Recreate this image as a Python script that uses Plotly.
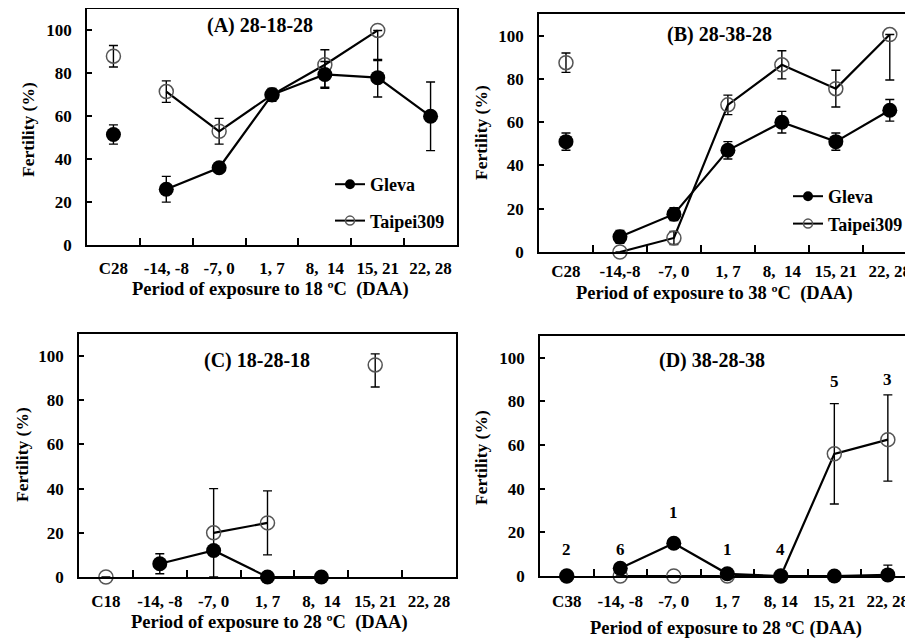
import plotly.graph_objects as go

# The page body has an 8px margin, so the figure is drawn 8px in from the
# window's top-left corner. All layout positions below are given in window
# pixels and converted to figure coordinates.
WIN_W, WIN_H = 913, 641
OFF = 8
W, H = WIN_W - OFF, WIN_H - OFF

# ---------------- data ----------------
tick_labels_A = ["C28", "-14, -8", "-7, 0", "1, 7", "8,  14", "15, 21", "22, 28"]
tick_labels_B = ["C28", "-14,-8", "-7, 0", "1, 7", "8,  14", "15, 21", "22, 28"]
tick_labels_C = ["C18", "-14, -8", "-7, 0", "1, 7", "8,  14", "15, 21", "22, 28"]
tick_labels_D = ["C38", "-14, -8", "-7, 0", "1, 7", "8, 14", "15, 21", "22, 28"]

# Panel A (28-18-28)
A_gleva = [51.5, 26, 36, 70, 79.5, 78, 60]
A_gleva_up = [4.5, 6, 2, 3, 6, 8.5, 16]
A_gleva_dn = [4.5, 6, 2, 3, 6, 9, 16]
A_taipei = [88, 71.5, 53, 70, 84, 100, None]
A_taipei_up = [5, 5, 6, 2, 7, 0, None]
A_taipei_dn = [5, 5, 6, 2, 11, 14, None]

# Panel B (28-38-28)
B_gleva = [51, 7, 17.5, 47, 60, 51, 65.5]
B_gleva_up = [4, 3, 3, 4, 5, 4, 5]
B_gleva_dn = [4, 3, 3, 4, 5, 4, 5]
B_taipei = [87.5, 0, 6.5, 68, 86.5, 75.5, 100.5]
B_taipei_up = [4.5, 0, 3, 4.5, 6.5, 8.5, 0]
B_taipei_dn = [4.5, 0, 3, 4.5, 6.5, 8.5, 21]

# Panel C (18-28-18)
C_gleva = [None, 6, 12, 0, 0, None, None]
C_gleva_up = [None, 4.5, 2, 0, 0, None, None]
C_gleva_dn = [None, 4.5, 2, 0, 0, None, None]
C_taipei = [0, None, 20, 24.5, None, 96, None]
C_taipei_up = [0, None, 20, 14.5, None, 5, None]
C_taipei_dn = [0, None, 20, 14.5, None, 10, None]

# Panel D (38-28-38)
D_gleva = [0, 3.5, 15, 1, 0, 0, 0.5]
D_gleva_up = [0, 2, 2, 1, 0, 0, 4.5]
D_gleva_dn = [0, 2, 2, 1, 0, 0, 0.5]
D_taipei = [0, 0, 0, 0, 0, 56, 62.5]
D_taipei_up = [0, 0, 0, 0, 0, 23, 20.5]
D_taipei_dn = [0, 0, 0, 0, 0, 23, 19]
D_counts = ["2", "6", "1", "1", "4", "5", "3"]

panel_titles = ["(A) 28-18-28", "(B) 28-38-28", "(C) 18-28-18", "(D) 38-28-38"]
x_titles = ["Period of exposure to 18 \u00baC  (DAA)",
            "Period of exposure to 38 \u00baC  (DAA)",
            "Period of exposure to 28 \u00baC  (DAA)",
            "Period of exposure to 28 \u00baC (DAA)"]
y_title = "Fertility (%)"
series_names = ["Gleva", "Taipei309"]
y_ticks = [0, 20, 40, 60, 80, 100]

# ---------------- layout helpers ----------------
FONT = "Liberation Serif, Times New Roman, serif"
cats = list(range(7))
boundaries = [k + 0.5 for k in range(6)]

# panel boxes in window pixels: (left, right, top, bottom, x_max)
boxes = [
    (87, 457, 9, 245, 6.5),
    (539, 913, 14, 252, 6.43),
    (79, 456, 334, 577, 6.5),
    (540, 913, 336, 576, 6.47),
]
x_label_standoff = [7, 3, 8, 9]
# text placements in window pixels (center x, center y)
panel_title_pos = [(260, 25), (719, 35), (257, 360), (712, 360)]
x_title_pos = [(270, 290), (714, 293), (269, 622), (726, 628)]
y_title_pos = [(28, 130), (481, 132), (22, 455), (481, 457)]


def px(xp):
    return (xp - OFF) / W


def py(yp):
    return 1 - (yp - OFF) / H


fig = go.Figure()


def axis_names(i):
    s = "" if i == 0 else str(i + 1)
    return "x" + s, "y" + s, "xaxis" + s, "yaxis" + s


def add_series(i, vals, up, dn, filled, connect_from):
    xa, ya, _, _ = axis_names(i)
    if filled:
        marker = dict(size=15, color="black", symbol="circle")
    else:
        marker = dict(size=14, color="#555555", symbol="circle-open",
                      line=dict(width=1.5))
    common = dict(xaxis=xa, yaxis=ya, showlegend=False, cliponaxis=False,
                  marker=marker)
    fig.add_trace(go.Scatter(
        x=cats[:connect_from], y=vals[:connect_from], mode="markers",
        error_y=dict(type="data", symmetric=False, array=up[:connect_from],
                     arrayminus=dn[:connect_from], color="black",
                     thickness=1.4, width=4.5),
        **common))
    fig.add_trace(go.Scatter(
        x=cats[connect_from:], y=vals[connect_from:], mode="lines+markers",
        connectgaps=False, line=dict(color="black", width=2.2),
        error_y=dict(type="data", symmetric=False, array=up[connect_from:],
                     arrayminus=dn[connect_from:], color="black",
                     thickness=1.4, width=4.5),
        **common))


panels = [
    (A_gleva, A_gleva_up, A_gleva_dn, A_taipei, A_taipei_up, A_taipei_dn, tick_labels_A),
    (B_gleva, B_gleva_up, B_gleva_dn, B_taipei, B_taipei_up, B_taipei_dn, tick_labels_B),
    (C_gleva, C_gleva_up, C_gleva_dn, C_taipei, C_taipei_up, C_taipei_dn, tick_labels_C),
    (D_gleva, D_gleva_up, D_gleva_dn, D_taipei, D_taipei_up, D_taipei_dn, tick_labels_D),
]

tick_font = dict(family=FONT, size=17, color="black", weight="bold")
layout = {}
annotations = []
for i, (g, gu, gd, t, tu, td, tl) in enumerate(panels):
    xa, ya, xk, yk = axis_names(i)
    left, right, top, bottom, xmax = boxes[i]
    add_series(i, t, tu, td, False, 1)
    add_series(i, g, gu, gd, True, 1)
    mirror_y = i in (0, 2)
    layout[xk] = dict(
        domain=[max(0, px(left)), min(1, px(right))], anchor=ya,
        range=[-0.5, xmax], automargin=False,
        tickmode="array", tickvals=cats, ticktext=tl, ticks="",
        ticklabelstandoff=x_label_standoff[i],
        minor=dict(tickmode="array", tickvals=boundaries, ticks="inside",
                   ticklen=7, tickwidth=1.5, tickcolor="black", showgrid=False),
        showline=True, linecolor="black", linewidth=1.5, mirror=True,
        showgrid=False, zeroline=False, tickfont=tick_font,
    )
    layout[yk] = dict(
        domain=[py(bottom), py(top)], anchor=xa, range=[0, 110],
        automargin=False,
        tickmode="array", tickvals=y_ticks,
        ticks="inside", ticklen=5, tickwidth=1.5, tickcolor="black",
        ticklabelstandoff=10,
        showline=True, linecolor="black", linewidth=1.5,
        mirror=mirror_y,
        showgrid=False, zeroline=False, tickfont=tick_font,
    )
    tx, ty = panel_title_pos[i]
    annotations.append(dict(
        text=panel_titles[i], xref="paper", yref="paper",
        x=px(tx), y=py(ty), xanchor="center", yanchor="middle", showarrow=False,
        font=dict(family=FONT, size=20, color="black", weight="bold")))
    tx, ty = x_title_pos[i]
    annotations.append(dict(
        text=x_titles[i], xref="paper", yref="paper",
        x=px(tx), y=py(ty), xanchor="center", yanchor="middle", showarrow=False,
        font=dict(family=FONT, size=18.5, color="black", weight="bold")))
    tx, ty = y_title_pos[i]
    annotations.append(dict(
        text=y_title, xref="paper", yref="paper", textangle=-90,
        x=px(tx), y=py(ty), xanchor="center", yanchor="middle", showarrow=False,
        font=dict(family=FONT, size=17.5, color="black", weight="bold")))

# count labels above points in panel D
d_label_y = [12, 12, 29, 12, 12, 89, 90]
for c, lab, yy in zip(cats, D_counts, d_label_y):
    annotations.append(dict(text=lab, x=c, y=yy, xref="x4", yref="y4",
                            showarrow=False,
                            font=dict(family=FONT, size=17, color="black", weight="bold")))

# legend-only entries for panels A and B
for lg in ("legend", "legend2"):
    fig.add_trace(go.Scatter(x=[None], y=[None], mode="lines+markers", name=series_names[0],
                             legend=lg, legendgroup=lg + "g",
                             line=dict(color="black", width=2),
                             marker=dict(size=10, color="black", symbol="circle")))
    fig.add_trace(go.Scatter(x=[None], y=[None], mode="lines+markers", name=series_names[1],
                             legend=lg, legendgroup=lg + "t",
                             line=dict(color="black", width=2),
                             marker=dict(size=9, color="#555555", symbol="circle-open",
                                         line=dict(width=1.5))))

legend_font = dict(family=FONT, size=18, color="black", weight="bold")
fig.update_layout(
    width=W, height=H, margin=dict(l=0, r=0, t=0, b=0, autoexpand=False),
    paper_bgcolor="white", plot_bgcolor="white",
    annotations=annotations,
    legend=dict(x=px(330), y=py(166), xanchor="left", yanchor="top",
                font=legend_font, tracegroupgap=10, bgcolor="rgba(0,0,0,0)"),
    legend2=dict(x=px(788), y=py(178), xanchor="left", yanchor="top",
                 font=legend_font, tracegroupgap=1, bgcolor="rgba(0,0,0,0)"),
    **layout,
)

fig.write_html("out.html")
